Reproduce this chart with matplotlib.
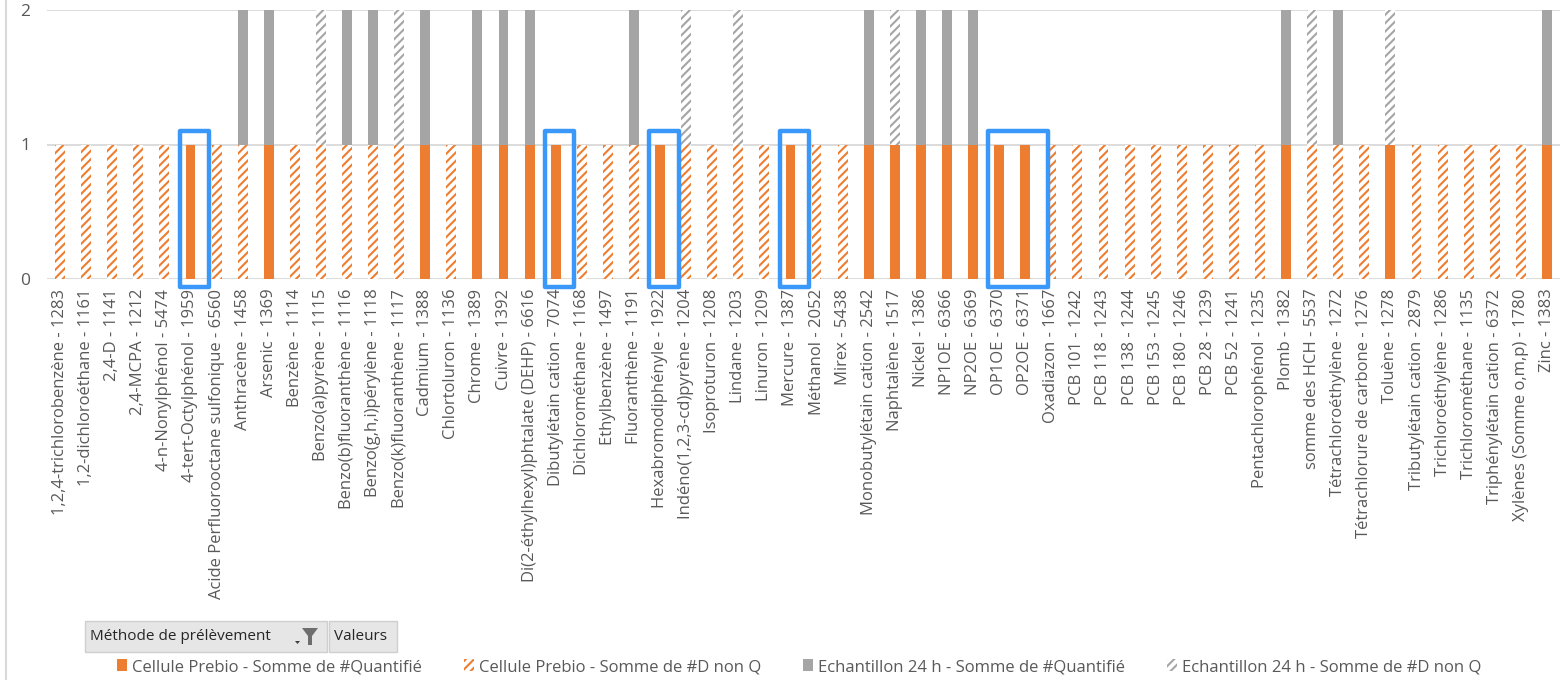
import matplotlib
matplotlib.use("Agg")
import numpy as np
import matplotlib.pyplot as plt
from matplotlib.patches import Patch, Rectangle, Polygon
from matplotlib.lines import Line2D

plt.rcParams['font.family'] = ['Open Sans', 'DejaVu Sans']
plt.rcParams['hatch.linewidth'] = 1.5

# substances et codes sandre
substances = [
    "1,2,4-trichlorobenzène", "1,2-dichloroéthane", "2,4-D", "2,4-MCPA",
    "4-n-Nonylphénol", "4-tert-Octylphénol", "Acide Perfluorooctane sulfonique",
    "Anthracène", "Arsenic", "Benzène", "Benzo(a)pyrène", "Benzo(b)fluoranthène",
    "Benzo(g,h,i)pérylène", "Benzo(k)fluoranthène", "Cadmium", "Chlortoluron",
    "Chrome", "Cuivre", "Di(2-éthylhexyl)phtalate (DEHP)", "Dibutylétain cation",
    "Dichlorométhane", "Ethylbenzène", "Fluoranthène", "Hexabromodiphényle",
    "Indéno(1,2,3-cd)pyrène", "Isoproturon", "Lindane", "Linuron", "Mercure",
    "Méthanol", "Mirex", "Monobutylétain cation", "Naphtalène", "Nickel",
    "NP1OE", "NP2OE", "OP1OE", "OP2OE", "Oxadiazon", "PCB 101", "PCB 118",
    "PCB 138", "PCB 153", "PCB 180", "PCB 28", "PCB 52", "Pentachlorophénol",
    "Plomb", "somme des HCH", "Tétrachloroéthylène", "Tétrachlorure de carbone",
    "Toluène", "Tributylétain cation", "Trichloroéthylène", "Trichlorométhane",
    "Triphénylétain cation", "Xylènes (Somme o,m,p)", "Zinc",
]
codes = [
    1283, 1161, 1141, 1212, 5474, 1959, 6560, 1458, 1369, 1114, 1115, 1116,
    1118, 1117, 1388, 1136, 1389, 1392, 6616, 7074, 1168, 1497, 1191, 1922,
    1204, 1208, 1203, 1209, 1387, 2052, 5438, 2542, 1517, 1386, 6366, 6369,
    6370, 6371, 1667, 1242, 1243, 1244, 1245, 1246, 1239, 1241, 1235, 1382,
    5537, 1272, 1276, 1278, 2879, 1286, 1135, 6372, 1780, 1383,
]

cellule_quantifie = [
    0, 0, 0, 0, 0, 1, 0, 0, 1, 0, 0, 0, 0, 0, 1, 0, 1, 1, 1, 1,
    0, 0, 0, 1, 0, 0, 0, 0, 1, 0, 0, 1, 1, 1, 1, 1, 1, 1, 0, 0,
    0, 0, 0, 0, 0, 0, 0, 1, 0, 0, 0, 1, 0, 0, 0, 0, 0, 1,
]
cellule_d_non_q = [1 - v for v in cellule_quantifie]
echantillon_quantifie = [
    0, 0, 0, 0, 0, 0, 0, 1, 1, 0, 0, 1, 1, 0, 1, 0, 1, 1, 1, 0,
    0, 0, 1, 0, 0, 0, 0, 0, 0, 0, 0, 1, 0, 1, 1, 1, 0, 0, 0, 0,
    0, 0, 0, 0, 0, 0, 0, 1, 0, 1, 0, 0, 0, 0, 0, 0, 0, 1,
]
echantillon_d_non_q = [
    0, 0, 0, 0, 0, 0, 0, 0, 0, 0, 1, 0, 0, 1, 0, 0, 0, 0, 0, 0,
    0, 0, 0, 0, 1, 0, 1, 0, 0, 0, 0, 0, 1, 0, 0, 0, 0, 0, 0, 0,
    0, 0, 0, 0, 0, 0, 0, 0, 1, 0, 0, 1, 0, 0, 0, 0, 0, 0,
]
# groupes de substances encadrés en bleu (premier, dernier)
encadres = [(5, 5), (19, 19), (23, 23), (28, 28), (36, 37)]

legend_labels = [
    "Cellule Prebio - Somme de #Quantifié",
    "Cellule Prebio - Somme de #D non Q",
    "Echantillon 24 h - Somme de #Quantifié",
    "Echantillon 24 h - Somme de #D non Q",
]

ORANGE = '#ED7D31'
GRAY = '#A5A5A5'
TXT = '#595959'
GRID = '#D9D9D9'
BLUE = '#3A98FA'
HATCH = '////'

W, H = 1564, 680
fig = plt.figure(figsize=(W / 100, H / 100), dpi=100)
ax = fig.add_axes([47 / W, 1 - 279 / H, (1560 - 47) / W, (279 - 10) / H])

x = np.arange(len(substances))
cq = np.array(cellule_quantifie)
cd = np.array(cellule_d_non_q)
eq = np.array(echantillon_quantifie)
ed = np.array(echantillon_d_non_q)
bw = 0.38

ax.bar(x, cq, bw, color=ORANGE, lw=0)
ax.bar(x, cd, bw, bottom=cq, facecolor='white', edgecolor=ORANGE, hatch=HATCH, lw=0)
ax.bar(x, eq, bw, bottom=cq + cd, color=GRAY, lw=0)
ax.bar(x, ed, bw, bottom=cq + cd + eq, facecolor='white', edgecolor=GRAY, hatch=HATCH, lw=0)

for a, b in encadres:
    left = a - 0.42
    right = b + (0.72 if a == b else 0.86)
    ax.add_patch(Rectangle((left, -0.06), right - left, 1.16, fill=False,
                           ec=BLUE, lw=3.2, joinstyle='round', clip_on=False, zorder=5))

ax.set_xlim(-0.5, len(substances) - 0.5)
ax.set_ylim(0, 2)
ax.set_yticks([0, 1, 2])
ax.set_xticks(x, [f"{s} - {c}" for s, c in zip(substances, codes)], rotation=90)
ax.tick_params(axis='x', length=0, pad=7, labelsize=12, labelcolor=TXT)
ax.tick_params(axis='y', length=0, pad=12, labelsize=12.5, labelcolor=TXT)
ax.yaxis.grid(True, color=GRID, lw=1.3)
ax.set_axisbelow(True)
for sp in ax.spines.values():
    sp.set_visible(False)

# bordure de la zone de graphique
fig.add_artist(Line2D([6 / W, 6 / W], [0, 1], color=GRID, lw=1.5))

# boutons de champ du tableau croisé
def bouton(x0, x1, texte):
    fig.add_artist(Rectangle((x0 / W, 1 - 652 / H), (x1 - x0) / W, 31 / H,
                             facecolor='#E6E6E6', edgecolor='#CFCFCF', lw=1))
    fig.text((x0 + 5) / W, 1 - 637 / H, texte, fontsize=11, color='#262626', va='center')

bouton(85, 327, "Méthode de prélèvement")
bouton(329, 397, "Valeurs")
fig.add_artist(Polygon([[302 / W, 1 - 628 / H], [318 / W, 1 - 628 / H],
                        [312 / W, 1 - 636 / H], [312 / W, 1 - 645 / H],
                        [308 / W, 1 - 645 / H], [308 / W, 1 - 636 / H]],
                       closed=True, facecolor='#6E6E6E', lw=0))
fig.add_artist(Polygon([[295 / W, 1 - 641 / H], [300 / W, 1 - 641 / H],
                        [297.5 / W, 1 - 644 / H]], closed=True, facecolor='#404040', lw=0))

handles = [
    Patch(facecolor=ORANGE, lw=0),
    Patch(facecolor='white', edgecolor=ORANGE, hatch=HATCH, lw=0),
    Patch(facecolor=GRAY, lw=0),
    Patch(facecolor='white', edgecolor=GRAY, hatch=HATCH, lw=0),
]
fig.legend(handles, legend_labels, loc='center', bbox_to_anchor=(0.511, 1 - 667 / H),
           ncol=4, frameon=False, handlelength=0.6, handleheight=0.7, handletextpad=0.3,
           columnspacing=2.5, prop={'size': 12}, labelcolor=TXT)

fig.savefig("out.png", dpi=100, facecolor='white')
